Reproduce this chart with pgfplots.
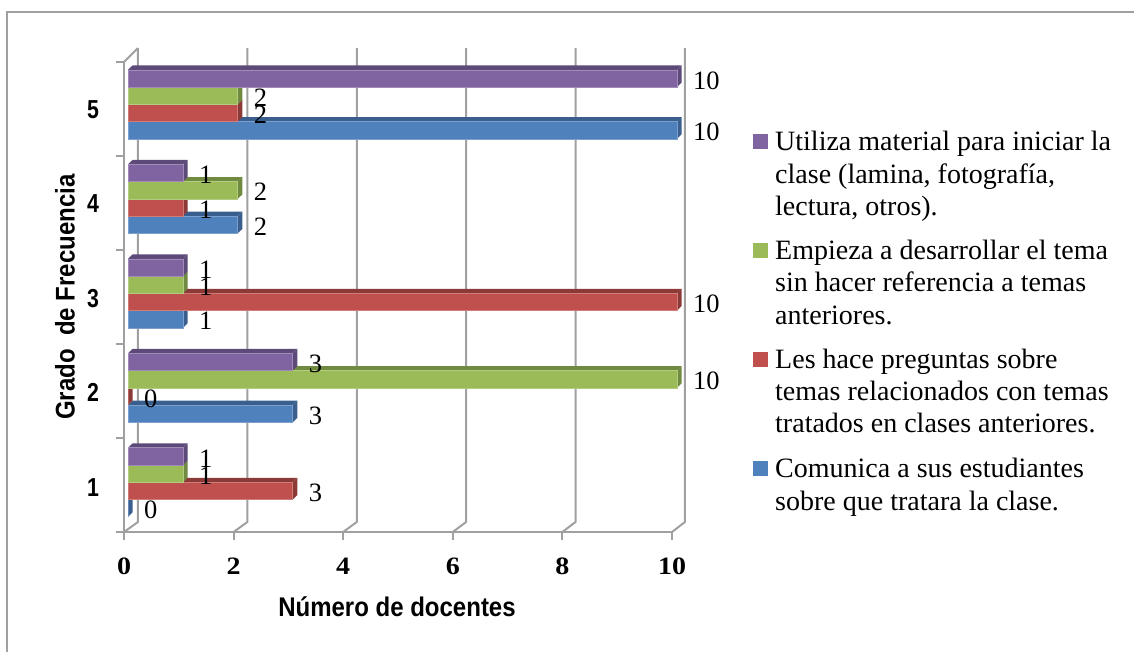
\documentclass[border=0pt]{standalone}
\usepackage{pgfplots}
\usepackage{pgfplotstable}
\usepackage{fontspec}
\pgfplotsset{compat=1.18}
\setmainfont{Liberation Serif}
\newfontfamily\arialf{Liberation Sans}
\definecolor{cb}{HTML}{4F81BD}\definecolor{cbd}{HTML}{3A5F8F}
\definecolor{cr}{HTML}{C0504D}\definecolor{crd}{HTML}{8C3A38}
\definecolor{cg}{HTML}{9BBB59}\definecolor{cgd}{HTML}{708A40}
\definecolor{cp}{HTML}{8064A2}\definecolor{cpd}{HTML}{5D4A78}
\definecolor{wall}{HTML}{A0A0A0}
\pgfplotstableread{
y v
1 0
2 3
3 1
4 2
5 10
}\tblue
\pgfplotstableread{
y v
1 3
2 0
3 10
4 1
5 2
}\tred
\pgfplotstableread{
y v
1 1
2 10
3 1
4 2
5 2
}\tgreen
\pgfplotstableread{
y v
1 1
2 3
3 1
4 1
5 10
}\tpurple
% depth faces of one bar: #1 category, #2 value, #3 series offset, #4 colour
\newcommand{\D}[4]{%
  \pgfmathsetmacro\yb{#1+#3-0.0913}\pgfmathsetmacro\yt{#1+#3+0.0913}%
  \pgfmathsetmacro\ytt{\yt+0.0476}\pgfmathsetmacro\ybb{\yb+0.0476}%
  \pgfmathsetmacro\vv{#2+0.0856}%
  \addplot[fill=#4,draw=none,forget plot] coordinates {(0,\yt)(#2,\yt)(\vv,\ytt)(0.0856,\ytt)} --cycle;
  \addplot[fill=#4,draw=none,forget plot] coordinates {(#2,\yb)(#2,\yt)(\vv,\ytt)(\vv,\ybb)} --cycle;
}
\newcommand{\F}[4]{% front face from the table
  \addplot[xbar,bar width=17.25pt,bar shift=#2,fill=#3,draw=#3!75!white,line width=0.6pt,forget plot] table[x=v,y=y] {#1};
}
\newcommand{\Lb}[2]{% data labels
  \addplot[draw=none,mark=none,forget plot,point meta=x,nodes near coords,
    every node near coord/.append style={anchor=west,xshift=16pt,yshift=-2pt,inner sep=0pt,text=black,
      font=\fontsize{26.5pt}{30pt}\selectfont,/pgf/number format/assume math mode=true,/pgf/number format/int detect}]
    table[x=v,y expr=\thisrow{y}+#2] {#1};
}
\newcommand{\W}[3]{% wall line: back x, front x
  \addplot[wall,line width=2pt,forget plot,line join=round] coordinates {(#1,5.596)(#1,0.580)(#2,0.474)};
}
\begin{document}
\begin{tikzpicture}[x=1pt,y=1pt]
\path[use as bounding box] (0,0) rectangle (1134,652);
\draw[color=wall,line width=2pt] (7,0)--(7,639.5)--(1134,639.5);
\begin{axis}[
  at={(124pt,120pt)},anchor=south west,
  scale only axis,width=548pt,height=470pt,
  xmin=-0.073,xmax=9.911,ymin=0.474,ymax=5.448,
  clip=false,
  axis lines=left,
  axis line style={-,color=wall,line width=2pt},
  tick align=outside,
  major tick length=0pt,minor tick length=8pt,
  minor tick style={color=wall,line width=2pt},
  xtick={-0.073,1.924,3.92,5.917,7.914,9.911},
  xticklabels={0,2,4,6,8,10},
  minor xtick={-0.073,1.924,3.92,5.917,7.914,9.911},
  ytick={1,2,3,4,5},
  minor ytick={0.474,1.469,2.463,3.458,4.453,5.448},
  xticklabel style={font=\fontsize{25pt}{28pt}\selectfont\bfseries,/pgf/number format/assume math mode=true,anchor=center,yshift=-34pt,inner sep=0pt,xscale=1.12},
  yticklabel style={font=\fontsize{26pt}{28pt}\arialf\selectfont\bfseries,/pgf/number format/assume math mode=true,anchor=center,xshift=-31pt,yshift=-5pt,inner sep=0pt,xscale=0.82},
]
\W{0.182}{-0.073}{}
\W{2.175}{1.924}{}
\W{4.168}{3.92}{}
\W{6.16}{5.917}{}
\W{8.153}{7.914}{}
\W{10.146}{9.911}{}
\addplot[wall,line width=2pt,forget plot] coordinates {(-0.073,5.448)(0.182,5.596)};
% blue
\D{1}{0}{-0.2738}{cbd}\D{2}{3}{-0.2738}{cbd}\D{3}{1}{-0.2738}{cbd}\D{4}{2}{-0.2738}{cbd}\D{5}{10}{-0.2738}{cbd}
\F{\tblue}{-25.875pt}{cb}{}
% red
\D{1}{3}{-0.0913}{crd}\D{2}{0}{-0.0913}{crd}\D{3}{10}{-0.0913}{crd}\D{4}{1}{-0.0913}{crd}\D{5}{2}{-0.0913}{crd}
\F{\tred}{-8.625pt}{cr}{}
% green
\D{1}{1}{0.0913}{cgd}\D{2}{10}{0.0913}{cgd}\D{3}{1}{0.0913}{cgd}\D{4}{2}{0.0913}{cgd}\D{5}{2}{0.0913}{cgd}
\F{\tgreen}{8.625pt}{cg}{}
% purple
\D{1}{1}{0.2738}{cpd}\D{2}{3}{0.2738}{cpd}\D{3}{1}{0.2738}{cpd}\D{4}{1}{0.2738}{cpd}\D{5}{10}{0.2738}{cpd}
\F{\tpurple}{25.875pt}{cp}{}
\Lb{\tblue}{-0.2738}
\Lb{\tred}{-0.0913}
\Lb{\tgreen}{0.0913}
\Lb{\tpurple}{0.2738}
\end{axis}
\node[font=\fontsize{27pt}{30pt}\arialf\selectfont\bfseries,inner sep=0pt,xscale=0.889] at (397,652-607) {Número de docentes};
\node[font=\fontsize{27pt}{30pt}\arialf\selectfont\bfseries,inner sep=0pt,rotate=90,xscale=0.889] at (65,652-297) {Grado\ \ de Frecuencia};
% legend
\fill[cp] (753,652-149) rectangle +(15,15);
\fill[cg] (753,652-258) rectangle +(15,15);
\fill[cr] (753,652-367) rectangle +(15,15);
\fill[cb] (753,652-476) rectangle +(15,15);
\begin{scope}[every node/.style={anchor=base west,inner sep=0pt,font=\fontsize{28pt}{32pt}\selectfont}]
\node at (775,652-151) {Utiliza material para iniciar la};
\node at (775,652-184) {clase (lamina, fotografía,};
\node at (775,652-216) {lectura, otros).};
\node at (775,652-260) {Empieza a desarrollar el tema};
\node at (775,652-292) {sin hacer referencia a temas};
\node at (775,652-325) {anteriores.};
\node at (775,652-369) {Les hace preguntas sobre};
\node at (775,652-401) {temas relacionados con temas};
\node at (775,652-433) {tratados en clases anteriores.};
\node at (775,652-478) {Comunica a sus estudiantes};
\node at (775,652-511) {sobre que tratara la clase.};
\end{scope}
\end{tikzpicture}
\end{document}
